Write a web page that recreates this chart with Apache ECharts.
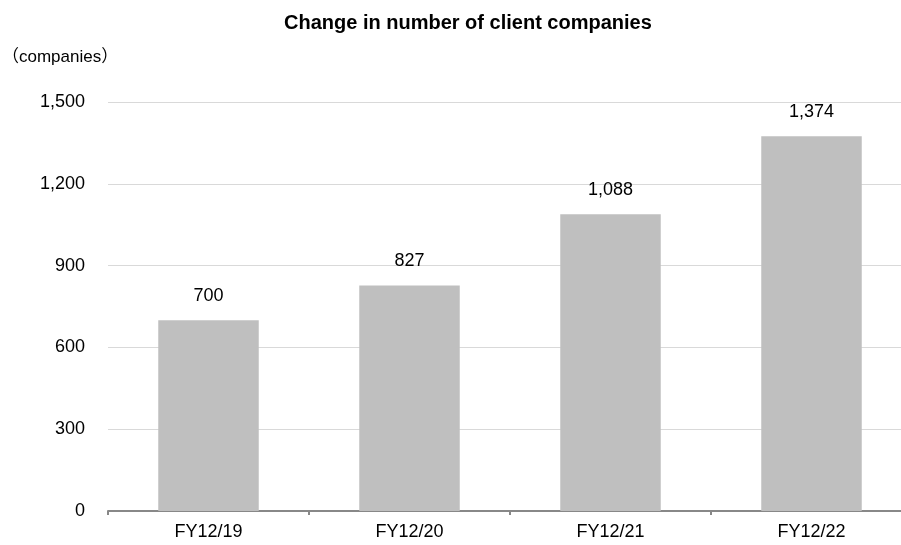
<!DOCTYPE html>
<html><head><meta charset="utf-8">
<script src="https://cdn.jsdelivr.net/npm/echarts@6/dist/echarts.min.js"></script>
<style>html,body{margin:0;padding:0;background:#fff}#c{width:901px;height:545px}</style>
</head><body><div id="c"></div>
<script>
const categories = ["FY12/19", "FY12/20", "FY12/21", "FY12/22"];
const clients = [700, 827, 1088, 1374];
const yTicks = [0, 300, 600, 900, 1200, 1500];

const FONT = "'Liberation Sans', 'Noto Sans CJK JP', sans-serif";
const chart = echarts.init(document.getElementById('c'), null, {renderer: 'canvas'});
chart.setOption({
  animation: false,
  title: {
    text: 'Change in number of client companies',
    left: 279, top: 8,
    textStyle: {fontFamily: FONT, fontSize: 20, fontWeight: 'bold', color: '#000'}
  },
  graphic: [{
    type: 'text', left: 2, top: 49,
    style: {text: '（companies）', font: "17px 'Liberation Sans', 'Noto Sans CJK JP', sans-serif", fill: '#000'}
  }],
  grid: {left: 108, top: 102, right: -11, bottom: 34, containLabel: false, outerBoundsMode: 'none'},
  xAxis: {
    type: 'category', data: categories,
    axisLine: {lineStyle: {color: '#888', width: 2}},
    axisTick: {show: true, length: 4, lineStyle: {color: '#888', width: 2}},
    axisLabel: {fontFamily: FONT, fontSize: 18, color: '#000', margin: 12}
  },
  yAxis: {
    type: 'value', min: 0, max: 1500, interval: 300,
    axisLine: {show: false}, axisTick: {show: false},
    splitLine: {lineStyle: {color: '#d9d9d9', width: 1}},
    axisLabel: {fontFamily: FONT, fontSize: 18, color: '#000', margin: 23,
      formatter: v => yTicks.includes(v) ? v.toLocaleString('en-US') : ''}
  },
  series: [{
    type: 'bar', data: clients, barWidth: '50%',
    itemStyle: {color: '#bfbfbf'},
    label: {show: true, position: 'top', distance: 15, fontFamily: FONT, fontSize: 18, color: '#000',
      formatter: p => p.value.toLocaleString('en-US')}
  }]
});
</script></body></html>
